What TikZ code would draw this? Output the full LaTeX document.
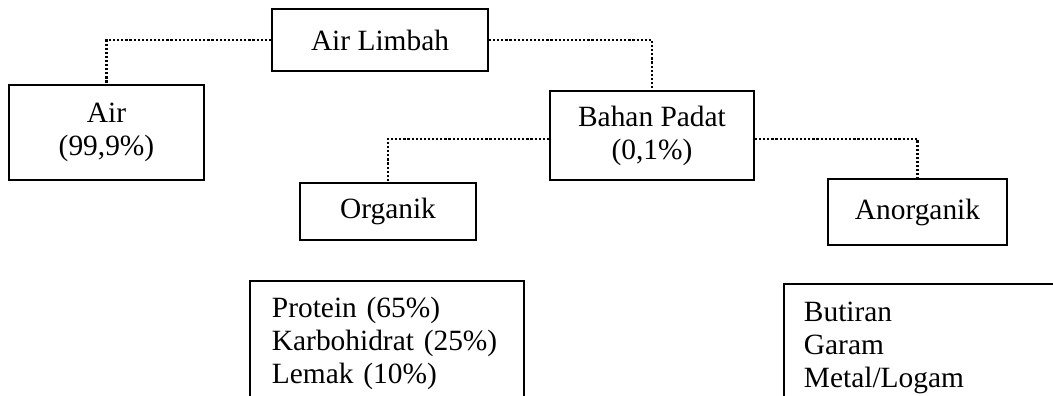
\documentclass[tikz,border=0pt]{standalone}
\usepackage{fontspec}
\setmainfont{Liberation Serif}
\usepackage{tikz}
\usetikzlibrary{positioning}

\begin{document}
\begin{tikzpicture}[
    x=1pt, y=-1pt,
    box/.style={draw, line width=1.9pt, inner sep=0pt, align=center, font=\fontsize{29.4}{33}\selectfont},
    listbox/.style={draw, line width=1.9pt, anchor=north west, align=left, font=\fontsize{29.4}{33}\selectfont},
    link/.style={line width=2.4pt, dash pattern=on 2.2pt off 1.9pt}
]
\useasboundingbox (0,0) rectangle (1053,396);
\clip (0,0) rectangle (1053,396);

% --- tingkat atas ---
\node[box, minimum width=216pt, minimum height=62pt] (limbah) at (380,40) {Air Limbah};
\node[box, minimum width=195pt, minimum height=95pt] (air) at (106.5,132.5) {Air\\(99,9\%)};
\node[box, minimum width=204pt, minimum height=89pt] (padat) at (652,135.5) {Bahan Padat\\(0,1\%)};

% --- bahan padat ---
\node[box, minimum width=176pt, minimum height=57pt] (organik) at (388,211.5) {Organik};
\node[box, minimum width=179pt, minimum height=66pt] (anorganik) at (917.5,212) {Anorganik};

% --- rincian ---
\node[listbox, text width=230pt, inner xsep=22pt, inner ysep=16pt] (orglist) at (249,280)
    {Protein (65\%)\\Karbohidrat (25\%)\\Lemak (10\%)};
\node[listbox, text width=280pt, inner xsep=20pt, inner ysep=18pt] (anglist) at (783,283)
    {Butiran\\Garam\\Metal/Logam};

% garis titik-titik
\draw[link] (limbah.west) -| (air.north);
\draw[link] (limbah.east) -| (padat.north);
\draw[link] ([yshift=-3.5pt]padat.west) -| (organik.north);
\draw[link] ([yshift=-3.5pt]padat.east) -| (anorganik.north);
\end{tikzpicture}
\end{document}
